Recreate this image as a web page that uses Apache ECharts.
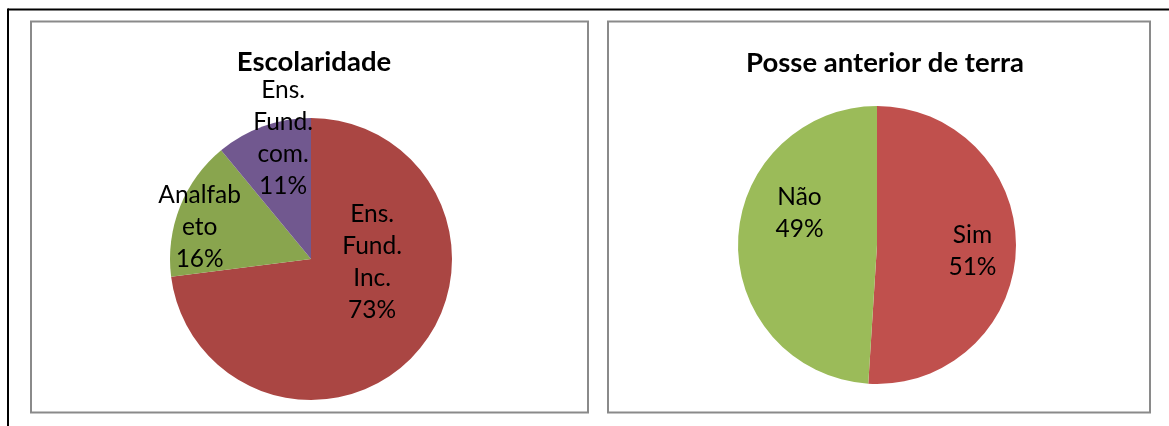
<!DOCTYPE html>
<html>
<head>
<meta charset="utf-8">
<script src="https://cdn.jsdelivr.net/npm/echarts@6/dist/echarts.min.js"></script>
<style>
html,body{margin:0;padding:0;background:#fff;}
#c{width:1169px;height:426px;}
</style>
</head>
<body>
<div id="c"></div>
<script>
// Chart 1: Escolaridade
const title1 = 'Escolaridade';
const cats1 = ['Ens. Fund. Inc.', 'Analfabeto', 'Ens. Fund. com.'];
const labelText1 = ['Ens.\nFund.\nInc.', 'Analfab\neto', 'Ens.\nFund.\ncom.'];
const values1 = [73, 16, 11];
const colors1 = ['#AA4643', '#89A54E', '#71588F'];

// Chart 2: Posse anterior de terra
const title2 = 'Posse anterior de terra';
const cats2 = ['Sim', 'Não'];
const labelText2 = ['Sim', 'Não'];
const values2 = [51, 49];
const colors2 = ['#C0504D', '#9BBB59'];

// label nudges (Excel-style placement) relative to ECharts inside position
const nudge1 = [[6, -46], [-43, -5], [-3, -52]];
const nudge2 = [[23, 4], [-5, -30]];

const font = 'Lato, "Open Sans", sans-serif';

const chart = echarts.init(document.getElementById('c'), null, { renderer: 'canvas' });

function pieSeries(cats, vals, cols, txt, center, radius, nudge) {
  return {
    type: 'pie',
    center: center,
    radius: radius,
    startAngle: 90,
    clockwise: true,
    animation: false,
    silent: true,
    itemStyle: { borderWidth: 0 },
    emphasis: { disabled: true },
    label: {
      show: true,
      position: 'inside',
      fontFamily: font,
      fontSize: 24.5,
      lineHeight: 32,
      color: '#000',
      align: 'center',
      formatter: function (p) { return txt[p.dataIndex] + '\n' + p.value + '%'; }
    },
    labelLine: { show: false },
    labelLayout: function (p) {
      const n = nudge[p.dataIndex];
      return { dx: n[0], dy: n[1] };
    },
    data: cats.map((c, i) => ({ name: c, value: vals[i], itemStyle: { color: cols[i] } }))
  };
}

chart.setOption({
  backgroundColor: '#fff',
  animation: false,
  title: [
    { text: title1, left: 309, top: 43, textAlign: 'center',
      textStyle: { fontFamily: font, fontWeight: 'bold', fontSize: 27.5, color: '#000' } },
    { text: title2, left: 880, top: 44, textAlign: 'center',
      textStyle: { fontFamily: font, fontWeight: 'bold', fontSize: 27.5, color: '#000' } }
  ],
  graphic: [
    { type: 'line', shape: { x1: 8, y1: 9.5, x2: 1169, y2: 9.5 }, style: { stroke: '#000', lineWidth: 2 }, silent: true },
    { type: 'line', shape: { x1: 8, y1: 8.5, x2: 8, y2: 426 }, style: { stroke: '#000', lineWidth: 2 }, silent: true },
    { type: 'rect', shape: { x: 31, y: 21.5, width: 557, height: 391 }, style: { fill: 'none', stroke: '#8a8a8a', lineWidth: 2 }, silent: true, z: -1 },
    { type: 'rect', shape: { x: 608, y: 21.5, width: 542, height: 391 }, style: { fill: 'none', stroke: '#8a8a8a', lineWidth: 2 }, silent: true, z: -1 }
  ],
  series: [
    pieSeries(cats1, values1, colors1, labelText1, [311, 259], 141, nudge1),
    pieSeries(cats2, values2, colors2, labelText2, [877, 245], 139, nudge2)
  ]
});
</script>
</body>
</html>
